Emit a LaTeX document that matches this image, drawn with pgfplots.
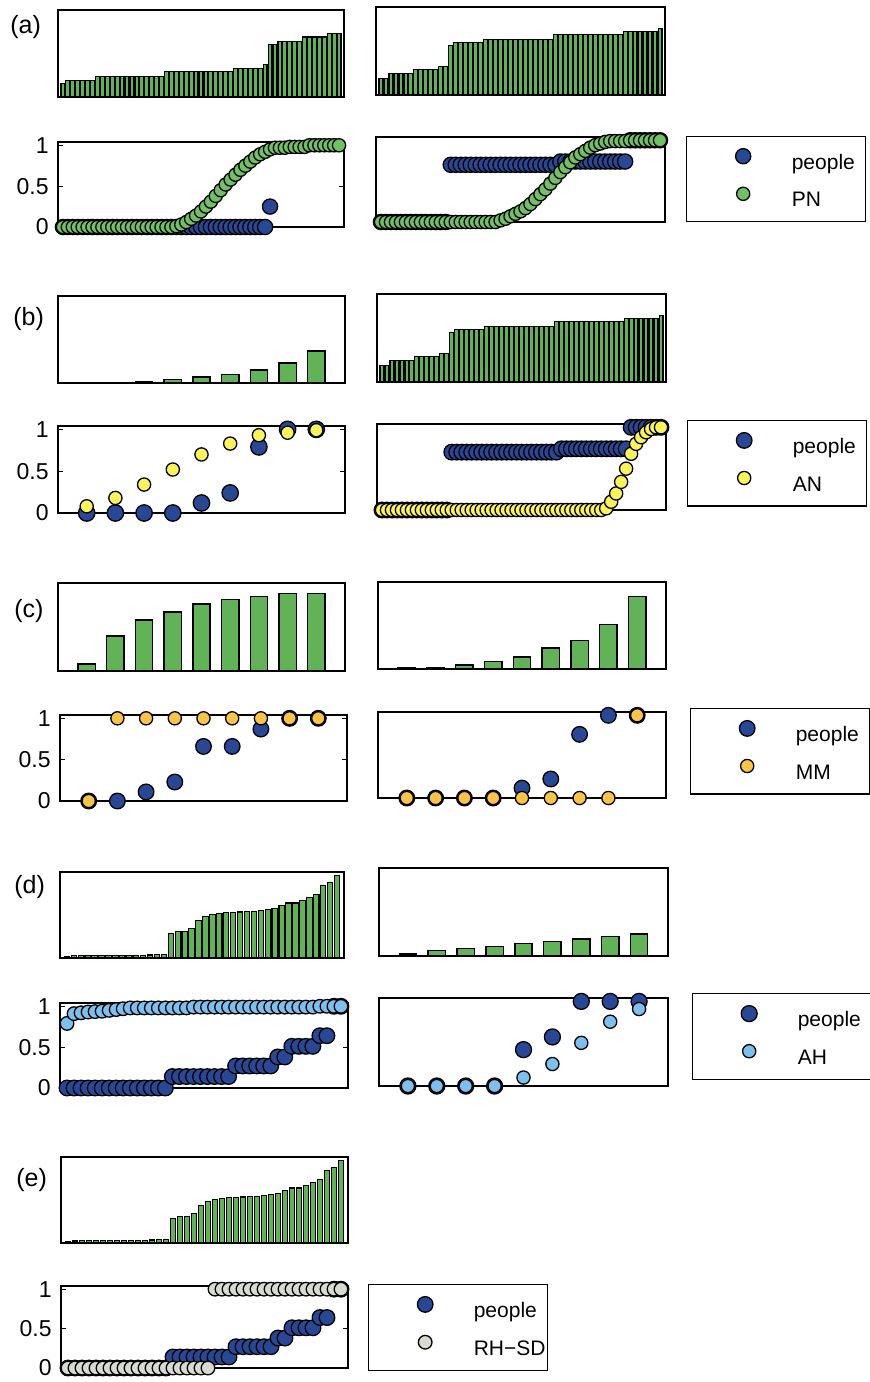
\documentclass[border=0pt]{standalone}
\usepackage{pgfplots}
\pgfplotsset{compat=1.18}
\usepackage{pgfplotstable}
\usepackage{fontspec}
\setmainfont{Liberation Sans}

\definecolor{pplblue}{RGB}{40,72,150}
\definecolor{pngreen}{RGB}{112,192,100}
\definecolor{bargreen}{RGB}{98,178,88}
\definecolor{anyellow}{RGB}{250,244,90}
\definecolor{mmorange}{RGB}{250,196,70}
\definecolor{ahblue}{RGB}{125,192,238}
\definecolor{rhgray}{RGB}{214,218,208}

% ranked scores (bar) and response probabilities, 57 items
\pgfplotstableread{
bar ppl pn
0.16 0 0
0.19 0 0
0.19 0 0
0.19 0 0
0.19 0 0
0.19 0 0
0.19 0 0
0.24 0 0
0.24 0 0
0.24 0 0
0.24 0 0
0.24 0 0
0.24 0 0
0.24 0 0
0.24 0 0
0.24 0 0
0.24 0 0
0.24 0 0
0.24 0 0
0.24 0 0
0.24 0 0
0.29 0 0
0.29 0 0
0.29 0 0.01
0.29 0 0.03
0.29 0 0.06
0.29 0 0.10
0.29 0 0.14
0.29 0 0.19
0.29 0 0.25
0.29 0 0.31
0.29 0 0.38
0.29 0 0.45
0.29 0 0.52
0.29 0 0.58
0.33 0 0.64
0.33 0 0.70
0.33 0 0.75
0.33 0 0.80
0.33 0 0.85
0.33 0 0.89
0.37 0 0.92
0.60 0.25 0.95
0.60 nan 0.97
0.64 nan 0.97
0.64 nan 0.97
0.64 nan 0.98
0.64 nan 0.98
0.64 nan 0.98
0.69 nan 0.98
0.69 nan 1
0.69 nan 1
0.69 nan 1
0.69 nan 1
0.73 nan 1
0.73 nan 1
0.73 nan 1
}\tabA

\pgfplotstableread{
bar ppl pn an
0.19 0 0 0
0.19 0 0 0
0.24 0 0 0
0.24 0 0 0
0.24 0 0 0
0.24 0 0 0
0.24 0 0 0
0.285 0 0 0
0.285 0 0 0
0.285 0 0 0
0.285 0 0 0
0.285 0 0 0
0.32 0 0 0
0.32 0 0 0
0.56 0.70 0 0
0.60 0.70 0 0
0.60 0.70 0 0
0.60 0.70 0 0
0.60 0.70 0 0
0.60 0.70 0 0
0.60 0.70 0 0
0.635 0.70 0 0
0.635 0.70 0 0
0.635 0.70 0 0
0.635 0.70 0.02 0
0.635 0.70 0.04 0
0.635 0.70 0.07 0
0.635 0.70 0.10 0
0.635 0.70 0.13 0
0.635 0.70 0.17 0
0.635 0.70 0.22 0
0.635 0.70 0.28 0
0.635 0.70 0.34 0
0.635 0.70 0.40 0
0.635 0.70 0.47 0
0.69 0.70 0.54 0
0.69 0.74 0.61 0
0.69 0.74 0.67 0
0.69 0.74 0.73 0
0.69 0.74 0.79 0
0.69 0.74 0.83 0
0.69 0.74 0.87 0
0.69 0.74 0.91 0
0.69 0.74 0.94 0
0.69 0.74 0.96 0
0.69 0.74 0.98 0.02
0.69 0.74 0.99 0.10
0.69 0.74 0.99 0.20
0.69 0.74 0.99 0.34
0.72 0.74 0.99 0.50
0.72 1 1 0.68
0.72 1 1 0.80
0.72 1 1 0.88
0.72 1 1 0.94
0.72 1 1 0.98
0.72 1 1 1
0.76 1 1 1
}\tabB

\pgfplotstableread{
bar ppl ah rh
0.022 0 0.79 0
0.024 0 0.91 0
0.025 0 0.92 0
0.026 0 0.93 0
0.027 0 0.935 0
0.028 0 0.94 0
0.029 0 0.95 0
0.030 0 0.96 0
0.031 0 0.97 0
0.032 0 0.98 0
0.033 0 0.98 0
0.034 0 0.98 0
0.035 0 0.98 0
0.036 0 0.98 0
0.038 0 0.98 0
0.28 0.14 0.98 0
0.31 0.14 0.98 0
0.31 0.14 0.98 0
0.34 0.14 0.99 0
0.44 0.14 0.99 0
0.48 0.14 0.99 0
0.51 0.14 0.99 1
0.52 0.14 0.99 1
0.53 0.14 0.99 1
0.53 0.27 0.99 1
0.535 0.27 0.99 1
0.54 0.27 0.99 1
0.54 0.27 0.99 1
0.55 0.27 0.99 1
0.56 0.27 0.99 1
0.58 0.38 0.99 1
0.61 0.38 0.99 1
0.64 0.51 0.99 1
0.64 0.51 0.99 1
0.67 0.51 0.99 1
0.70 0.51 0.99 1
0.74 0.64 1 1
0.84 0.64 1 1
0.88 1 1 1
0.96 1 1 1
}\tabD

\pgfplotsset{
  panel/.style={scale only axis, anchor=north west, xtick=\empty, ytick=\empty,
    axis line style={line width=0.6pt}, clip=false},
  barax/.style={panel, ymin=0, ymax=1, ybar},
  scatax/.style={panel, ymin=0, ymax=1.04},
  ticked/.style={ytick={0,0.5,1}, yticklabels={0,0.5,1}, tick align=inside,
    major tick length=2.5pt, tick style={line width=0.5pt, black},
    yticklabel style={font=\fontsize{11.5}{11.5}\selectfont, inner sep=0pt, xshift=-4.5pt}},
  densebar/.style={fill=bargreen, draw=black, line width=0.55pt, bar width=0.78},
  widebar/.style={fill=bargreen, draw=black, line width=0.7pt, bar width=0.6},
  dots/.style 2 args={only marks, mark=*, mark size=#2,
    mark options={fill=#1, draw=black, line width=0.65pt},
    legend image code/.code={\path (0pt,3pt) (52pt,3pt); \draw[##1] plot coordinates {(28pt,3pt)};}},
  legbox/.style 2 args={legend cell align=left,
    legend style={at={(1,1)}, anchor=north west, xshift=#1, yshift=#2,
      draw=black, line width=0.6pt, inner xsep=0pt, inner ysep=6pt,
      row sep=7.5pt, column sep=0pt, font=\fontsize{10.5}{10.5}\selectfont,
      nodes={inner sep=0pt, text height=8.5pt, text depth=1.5pt, text width=37pt, align=left}}},
}

\begin{document}
\begin{tikzpicture}
\useasboundingbox (0,0) rectangle (435pt,-691pt);

\tikzset{plab/.style={anchor=west, inner sep=0pt, font=\fontsize{12.5}{12.5}\selectfont}}
\node[plab] at (5pt,-13.5pt) {(a)};
\node[plab] at (6.5pt,-159.5pt) {(b)};
\node[plab] at (7pt,-305.5pt) {(c)};
\node[plab] at (7pt,-443.5pt) {(d)};
\node[plab] at (8pt,-590pt) {(e)};

% ---------------- (a)
\begin{axis}[barax, at={(29pt,-5pt)}, width=143pt, height=43.5pt, xmin=0, xmax=58]
\addplot[densebar] table[x expr=\coordindex+1, y=bar] {\tabA};
\end{axis}
\begin{axis}[barax, at={(188pt,-3.5pt)}, width=144.5pt, height=44pt, xmin=0, xmax=58]
\addplot[densebar] table[x expr=\coordindex+1, y=bar] {\tabB};
\end{axis}
\begin{axis}[scatax, ticked, at={(29pt,-71pt)}, width=143pt, height=42.5pt, xmin=0, xmax=58]
\addplot[dots={pplblue}{3.8pt}] table[x expr=\coordindex+1, y=ppl] {\tabA};
\addplot[dots={pngreen}{3.3pt}] table[x expr=\coordindex+1, y=pn] {\tabA};
\end{axis}
\begin{axis}[scatax, at={(188pt,-68.5pt)}, width=144.5pt, height=42.5pt, xmin=0, xmax=58,
  legbox={10.5pt}{0.5pt}]
\addplot[dots={pplblue}{3.8pt}] table[x expr=\coordindex+1, y=ppl] {\tabB};
\addlegendentry{people}
\addplot[dots={pngreen}{3.3pt}] table[x expr=\coordindex+1, y=pn] {\tabB};
\addlegendentry{PN}
\end{axis}

% ---------------- (b)
\begin{axis}[barax, at={(29pt,-148pt)}, width=143.5pt, height=43.5pt, xmin=0, xmax=10]
\addplot[widebar] coordinates {(1,0.006) (2,0.007) (3,0.018) (4,0.04) (5,0.07) (6,0.10) (7,0.15) (8,0.23) (9,0.37)};
\end{axis}
\begin{axis}[barax, at={(188.5pt,-147pt)}, width=144.5pt, height=44pt, xmin=0, xmax=58]
\addplot[densebar] table[x expr=\coordindex+1, y=bar] {\tabB};
\end{axis}
\begin{axis}[scatax, ticked, at={(29pt,-213pt)}, width=143.5pt, height=43.5pt, xmin=0, xmax=10]
\addplot[dots={pplblue}{4.1pt}] coordinates {(1,0) (2,0) (3,0) (4,0) (5,0.12) (6,0.24) (7,0.79) (8,1) (9,1)};
\addplot[dots={anyellow}{3.3pt}] coordinates {(1,0.08) (2,0.18) (3,0.34) (4,0.52) (5,0.70) (6,0.83) (7,0.93) (8,0.96) (9,0.99)};
\end{axis}
\begin{axis}[scatax, at={(188.5pt,-212pt)}, width=144.5pt, height=43pt, xmin=0, xmax=58,
  legbox={10.5pt}{2pt}]
\addplot[dots={pplblue}{3.9pt}] table[x expr=\coordindex+1, y=ppl] {\tabB};
\addlegendentry{people}
\addplot[dots={anyellow}{3.3pt}] table[x expr=\coordindex+1, y=an] {\tabB};
\addlegendentry{AN}
\end{axis}

% ---------------- (c)
\begin{axis}[barax, at={(29pt,-291.5pt)}, width=143.5pt, height=44pt, xmin=0, xmax=10]
\addplot[widebar] coordinates {(1,0.08) (2,0.40) (3,0.58) (4,0.67) (5,0.76) (6,0.81) (7,0.85) (8,0.88) (9,0.88)};
\end{axis}
\begin{axis}[barax, at={(189pt,-291pt)}, width=144pt, height=43.5pt, xmin=0, xmax=10]
\addplot[widebar] coordinates {(1,0.02) (2,0.02) (3,0.045) (4,0.085) (5,0.14) (6,0.24) (7,0.33) (8,0.51) (9,0.83)};
\end{axis}
\begin{axis}[scatax, ticked, at={(30pt,-357.5pt)}, width=143.5pt, height=43pt, xmin=0, xmax=10]
\addplot[dots={pplblue}{3.9pt}] coordinates {(1,0) (2,0) (3,0.11) (4,0.23) (5,0.66) (6,0.66) (7,0.87) (8,1) (9,1)};
\addplot[dots={mmorange}{3.3pt}] coordinates {(1,0) (2,1) (3,1) (4,1) (5,1) (6,1) (7,1) (8,1) (9,1)};
\end{axis}
\begin{axis}[scatax, at={(189pt,-356pt)}, width=144pt, height=43pt, xmin=0, xmax=10,
  legbox={12pt}{2pt}]
\addplot[dots={pplblue}{3.9pt}] coordinates {(1,0) (2,0) (3,0) (4,0) (5,0.12) (6,0.23) (7,0.77) (8,1) (9,1)};
\addlegendentry{people}
\addplot[dots={mmorange}{3.3pt}] coordinates {(1,0) (2,0) (3,0) (4,0) (5,0) (6,0) (7,0) (8,0) (9,1)};
\addlegendentry{MM}
\end{axis}

% ---------------- (d)
\begin{axis}[barax, at={(30pt,-436pt)}, width=142pt, height=43pt, xmin=0, xmax=41]
\addplot[densebar] table[x expr=\coordindex+1, y=bar] {\tabD};
\end{axis}
\begin{axis}[barax, at={(189.5pt,-434pt)}, width=144.5pt, height=44pt, xmin=0, xmax=10]
\addplot[widebar] coordinates {(1,0.025) (2,0.06) (3,0.085) (4,0.11) (5,0.14) (6,0.165) (7,0.195) (8,0.22) (9,0.25)};
\end{axis}
\begin{axis}[scatax, ticked, at={(30pt,-501.5pt)}, width=144pt, height=42.5pt, xmin=0, xmax=41]
\addplot[dots={pplblue}{3.9pt}] table[x expr=\coordindex+1, y=ppl] {\tabD};
\addplot[dots={ahblue}{3.4pt}] table[x expr=\coordindex+1, y=ah] {\tabD};
\end{axis}
\begin{axis}[scatax, at={(189.5pt,-499pt)}, width=144.5pt, height=44pt, xmin=0, xmax=10,
  legbox={12pt}{2.5pt}]
\addplot[dots={pplblue}{4pt}] coordinates {(1,0) (2,0) (3,0) (4,0) (5,0.43) (6,0.58) (7,1) (8,1) (9,1)};
\addlegendentry{people}
\addplot[dots={ahblue}{3.3pt}] coordinates {(1,0) (2,0) (3,0) (4,0) (5,0.10) (6,0.26) (7,0.51) (8,0.76) (9,0.91)};
\addlegendentry{AH}
\end{axis}

% ---------------- (e)
\begin{axis}[barax, at={(30.5pt,-578.5pt)}, width=143.5pt, height=43pt, xmin=0, xmax=41]
\addplot[densebar] table[x expr=\coordindex+1, y=bar] {\tabD};
\end{axis}
\begin{axis}[scatax, ticked, at={(30.5pt,-643pt)}, width=143.5pt, height=41pt, xmin=0, xmax=41,
  legbox={10pt}{1pt}]
\addplot[dots={pplblue}{3.9pt}] table[x expr=\coordindex+1, y=ppl] {\tabD};
\addlegendentry{people}
\addplot[dots={rhgray}{3.4pt}] table[x expr=\coordindex+1, y=rh] {\tabD};
\addlegendentry{RH−SD}
\end{axis}
\end{tikzpicture}
\end{document}
